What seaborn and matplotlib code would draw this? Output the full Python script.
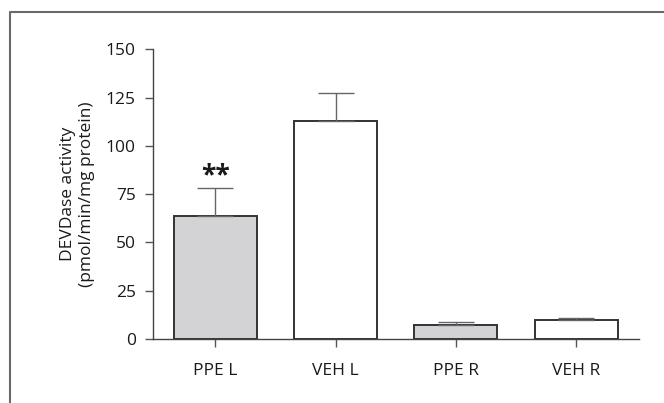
import matplotlib
matplotlib.use("Agg")
import matplotlib.pyplot as plt
import seaborn as sns
import pandas as pd
import numpy as np
from matplotlib.lines import Line2D

groups = ["PPE L", "VEH L", "PPE R", "VEH R"]
means = [63.5, 113.0, 7.4, 9.7]
sem = [14.5, 14.5, 1.2, 1.0]
fills = ["#d3d3d5", "#ffffff", "#d3d3d5", "#ffffff"]

sns.set_style("ticks")
plt.rcParams["font.family"] = ["Open Sans", "DejaVu Sans"]

df = pd.DataFrame({"group": groups, "activity": means})

fig = plt.figure(figsize=(6.64, 4.03), dpi=100)
ax = fig.add_axes([0.2297, 0.1588, 0.7326, 0.7189])

sns.barplot(data=df, x="group", y="activity", hue="group", palette=fills,
            legend=False, width=0.69, edgecolor="#333333", linewidth=1.4,
            errorbar=None, ax=ax)

# upper error bars only
ax.errorbar(np.arange(len(groups)), means, yerr=[np.zeros(len(groups)), sem],
            fmt="none", ecolor="#666666", elinewidth=1.0, capsize=13,
            capthick=1.0, zorder=1)

ax.text(0, means[0] + sem[0] - 0.3, "**", ha="center", va="bottom",
        fontsize=19, fontweight="bold", color="#1a1a1a")

ax.set_xlim(-0.52, 3.52)
ax.set_ylim(0, 150)
ax.set_yticks([0, 25, 50, 75, 100, 125, 150])
ax.set_xlabel("")
ax.set_ylabel("DEVDase activity\n(pmol/min/mg protein)", fontsize=12.5,
              labelpad=8, color="#1a1a1a")
ax.tick_params(axis="both", length=6, width=1, color="#555555",
               labelsize=12.5, labelcolor="#1a1a1a")
ax.tick_params(axis="y", pad=6)
ax.tick_params(axis="x", pad=11)
sns.despine(ax=ax)
for s in ["left", "bottom"]:
    ax.spines[s].set_color("#444444")
    ax.spines[s].set_linewidth(1.0)

# outer frame (top and left only)
fig.add_artist(Line2D([0.015, 0.015, 1.0], [0.0, 0.97, 0.97],
                      color="#6a6a6a", lw=1.5, transform=fig.transFigure))

fig.savefig("out.png", dpi=100)
